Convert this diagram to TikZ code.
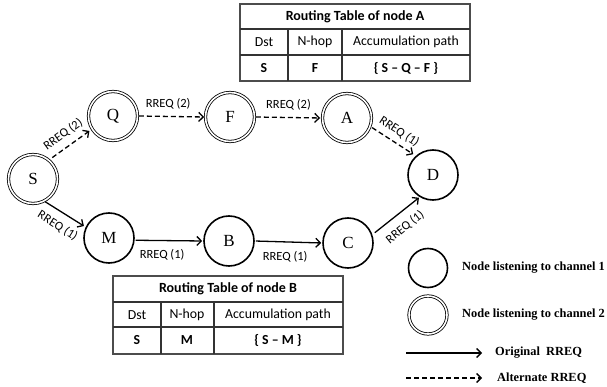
\documentclass[tikz,border=0pt]{standalone}
\usepackage{fontspec}
\setmainfont{Liberation Serif}
\newfontfamily\calfont{Carlito}
\usetikzlibrary{arrows.meta}

\begin{document}
\begin{tikzpicture}[x=1pt,y=-1pt,
  chone/.style={circle, draw, line width=1.6pt, minimum size=50pt, inner sep=0pt,
    font=\fontsize{17}{17}\selectfont},
  chtwo/.style={circle, draw, line width=0.8pt, double, double distance=1.6pt,
    minimum size=49pt, inner sep=0pt, font=\fontsize{17}{17}\selectfont},
  orig/.style={line width=1.3pt, -{Straight Barb[length=4.5pt,width=9pt]}},
  alt/.style={orig, dash pattern=on 5pt off 3pt},
  lbl/.style={font=\calfont\fontsize{12.5}{12.5}\selectfont, inner sep=1.5pt},
  tframe/.style={draw=black!70, line width=1.4pt},
  tline/.style={draw=black!80, line width=1.1pt},
  ttitle/.style={font=\calfont\bfseries\fontsize{14}{14}\selectfont},
  thead/.style={font=\calfont\fontsize{13.8}{13.8}\selectfont},
  tcell/.style={font=\calfont\bfseries\fontsize{13.8}{13.8}\selectfont},
  legtext/.style={anchor=west, font=\bfseries\fontsize{12.4}{12.4}\selectfont, inner sep=0pt}]

\useasboundingbox (0,0) rectangle (607,387);

% ---- routing table of node A ----
\draw[tframe] (240,4) rectangle (470,81);
\draw[tline] (240,29) -- (470,29) (240,55) -- (470,55)
             (288,29) -- (288,81) (342,29) -- (342,81);
\node[ttitle] (tAt) at (355,17) {Routing Table of node A};
\node[thead] (tAd) at (264,42) {Dst};
\node[thead] (tAn) at (315,42) {N-hop};
\node[thead] (tAp) at (406,42) {Accumulation path};
\node[tcell] (tAs) at (264,68) {S};
\node[tcell] (tAf) at (315,68) {F};
\node[tcell] (tAq) at (406,68) {\{ S – Q – F \}};

% ---- routing table of node B ----
\draw[tframe] (113,276) rectangle (343,354);
\draw[tline] (113,302) -- (343,302) (113,327) -- (343,327)
             (161,302) -- (161,354) (214,302) -- (214,354);
\node[ttitle] (tBt) at (228,289) {Routing Table of node B};
\node[thead] (tBd) at (137,315) {Dst};
\node[thead] (tBn) at (187,315) {N-hop};
\node[thead] (tBp) at (278,315) {Accumulation path};
\node[tcell] (tBs) at (137,340) {S};
\node[tcell] (tBm) at (187,340) {M};
\node[tcell] (tBq) at (278,340) {\{ S – M \}};

% ---- nodes ----
\node[chtwo] (S) at (33,179) {S};
\node[chtwo] (Q) at (113,116) {Q};
\node[chtwo] (F) at (230,117) {F};
\node[chtwo] (A) at (347,118) {A};
\node[chone] (D) at (433,175) {D};
\node[chone] (M) at (109,238) {M};
\node[chone] (B) at (229,241) {B};
\node[chone] (C) at (348,243) {C};

% ---- alternate route (channel 2) ----
\draw[alt, shorten <=4pt, shorten >=3pt] (S.50) -- node[lbl, sloped, above=5pt] {RREQ (2)} (Q.212);
\draw[alt, shorten <=1pt, shorten >=1pt] (Q.east) -- node[lbl, pos=0.45, above=5pt] {RREQ (2)} (F.west);
\draw[alt, shorten <=1pt, shorten >=2pt] (F.east) -- node[lbl, pos=0.5, above=5pt] {RREQ (2)} (A.west);
\draw[alt, shorten <=2pt, shorten >=3pt] (A.-20) -- node[lbl, sloped, above=4pt] {RREQ (1)} (D.132);

% ---- original route (channel 1) ----
\draw[orig, shorten <=1pt, shorten >=2pt] (S.-63) -- node[lbl, sloped, below=6pt] {RREQ (1)} (M.155);
\draw[orig, shorten <=1pt, shorten >=1pt] (M.-5) -- node[lbl, pos=0.4, below=7pt] {RREQ (1)} (B.west);
\draw[orig, shorten <=1pt, shorten >=1pt] (B.east) -- node[lbl, pos=0.45, below=7pt] {RREQ (1)} (C.west);
\draw[orig, shorten <=3pt, shorten >=1pt] (C.19) -- node[lbl, sloped, below=7pt] {RREQ (1)} (D.239);

% ---- legend ----
\node[chone, minimum size=39pt] (L1) at (428,268) {};
\node[chtwo, minimum size=38pt] (L2) at (428,315) {};
\node[legtext] (L1t) at (462,268) {Node listening to channel 1};
\node[legtext] (L2t) at (462,315) {Node listening to channel 2};
\coordinate (O1) at (406,353);
\coordinate (O2) at (482,353);
\coordinate (A1) at (406,378);
\coordinate (A2) at (482,378);
\draw[orig] (O1) -- (O2);
\draw[alt] (A1) -- (A2);
\node[legtext] (L3t) at (495,353) {Original\ \ RREQ};
\node[legtext] (L4t) at (497,378) {Alternate RREQ};

\end{tikzpicture}
\end{document}
